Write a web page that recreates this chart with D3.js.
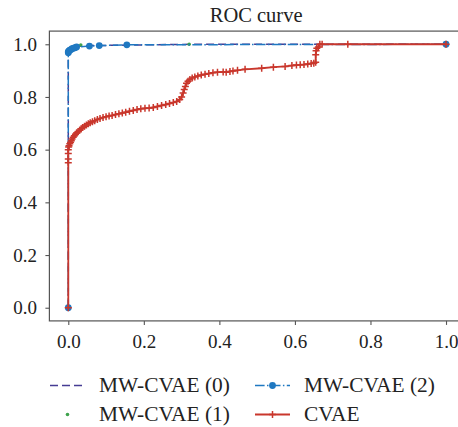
<!DOCTYPE html>
<html>
<head>
<meta charset="utf-8">
<script src="https://cdn.jsdelivr.net/npm/d3@7"></script>
<style>
  body { margin: 0; background: #fff; }
  svg text { font-family: "Liberation Serif", "DejaVu Serif", serif; fill: #222; }
</style>
</head>
<body>
<div id="chart"></div>
<script>
// MW-CVAE (0): dashed navy line
var mw0Fpr = [0, 0, 0, 0.004, 0.008, 0.014, 0.022, 0.06, 0.16, 0.33, 1.0];
var mw0Tpr = [0, 0.968, 0.975, 0.98, 0.985, 0.988, 0.992, 0.995, 0.997, 1.0, 1.0];

// MW-CVAE (1): green points only
var mw1Fpr = [0, 0, 0.002, 0.006, 0.012, 0.02, 0.033, 0.32, 1.0];
var mw1Tpr = [0, 0.97, 0.977, 0.983, 0.987, 0.99, 0.997, 1.0, 1.0];

// MW-CVAE (2): dash-dot blue with circles
var mw2Fpr = [0, 0, 0, 0.002, 0.004, 0.007, 0.01, 0.014, 0.018, 0.022, 0.056, 0.082, 0.155, 1.0];
var mw2Tpr = [0, 0.968, 0.972, 0.975, 0.978, 0.98, 0.983, 0.985, 0.987, 0.99, 0.993, 0.995, 0.998, 1.0];

// CVAE: red line with + markers
var cvaeFpr = [0, 0, 0, 0, 0, 0.001, 0.002, 0.004, 0.006, 0.008, 0.010, 0.013, 0.016, 0.019, 0.022,
  0.026, 0.030, 0.034, 0.038, 0.043, 0.048, 0.053, 0.058, 0.064, 0.070, 0.077, 0.084, 0.092, 0.100,
  0.108, 0.116, 0.125, 0.134, 0.143, 0.152, 0.162, 0.172, 0.182, 0.192, 0.203, 0.214, 0.225, 0.236,
  0.247, 0.258, 0.268, 0.278, 0.287, 0.295, 0.300, 0.304, 0.307, 0.310, 0.313, 0.317, 0.322, 0.328,
  0.335, 0.343, 0.352, 0.362, 0.372, 0.383, 0.395, 0.41, 0.418, 0.428, 0.436, 0.448, 0.468, 0.512,
  0.543, 0.574, 0.592, 0.604, 0.614, 0.624, 0.634, 0.643, 0.65, 0.655, 0.655, 0.656, 0.658, 0.662,
  0.666, 0.672, 0.74, 1.0];
var cvaeTpr = [0, 0.55, 0.565, 0.585, 0.60, 0.61, 0.615, 0.622, 0.628, 0.634, 0.64, 0.647, 0.653, 0.658, 0.663,
  0.668, 0.674, 0.679, 0.684, 0.689, 0.694, 0.698, 0.702, 0.706, 0.710, 0.714, 0.718, 0.722, 0.725,
  0.728, 0.730, 0.733, 0.736, 0.739, 0.742, 0.746, 0.749, 0.752, 0.755, 0.757, 0.758, 0.760, 0.764,
  0.768, 0.771, 0.775, 0.779, 0.783, 0.790, 0.800, 0.815, 0.828, 0.840, 0.852, 0.860, 0.866, 0.872,
  0.876, 0.880, 0.883, 0.886, 0.889, 0.892, 0.894, 0.895, 0.894, 0.897, 0.899, 0.901, 0.905, 0.909,
  0.913, 0.916, 0.919, 0.921, 0.922, 0.923, 0.925, 0.927, 0.928, 0.932, 0.96, 0.975, 0.985, 0.99,
  1.0, 1.0, 1.0, 1.0];

var tickValues = [0, 0.2, 0.4, 0.6, 0.8, 1.0];
var legendLabels = ["MW-CVAE (0)", "MW-CVAE (1)", "MW-CVAE (2)", "CVAE"];

var width = 458, height = 427;
var plot = {left: 49.4, right: 464.9, top: 31.1, bottom: 320.9};
var serif = '"Liberation Serif", "DejaVu Serif", serif';

var navy = "#463c94", blue = "#1f78c1", green = "#3fa34d", red = "#c9372c";

var svg = d3.select("#chart").append("svg")
    .attr("width", width)
    .attr("height", height);

// Scales
var x = d3.scaleLinear().domain([-0.05, 1.05]).range([plot.left, plot.right]);
var y = d3.scaleLinear().domain([-0.05, 1.05]).range([plot.bottom, plot.top]);

function pts(fx, fy) {
    return fx.map(function (d, i) { return [d, fy[i]]; });
}
var line = d3.line()
    .x(function (d) { return x(d[0]); })
    .y(function (d) { return y(d[1]); });

// frame
svg.append("rect")
    .attr("x", plot.left).attr("y", plot.top)
    .attr("width", plot.right - plot.left)
    .attr("height", plot.bottom - plot.top)
    .attr("fill", "none")
    .attr("stroke", "#555")
    .attr("stroke-width", 1.2);

// X-axis
var xAxis = svg.append("g")
    .attr("transform", "translate(0," + plot.bottom + ")")
    .call(d3.axisBottom(x).tickValues(tickValues).tickSize(4).tickPadding(5)
        .tickFormat(d3.format(".1f")));
// Y-axis
var yAxis = svg.append("g")
    .attr("transform", "translate(" + plot.left + ",0)")
    .call(d3.axisLeft(y).tickValues(tickValues).tickSize(4).tickPadding(8.5)
        .tickFormat(d3.format(".1f")));

[xAxis, yAxis].forEach(function (g) {
    g.attr("font-family", serif).attr("font-size", 19);
    g.select(".domain").remove();
    g.selectAll(".tick line").attr("stroke", "#555").attr("stroke-width", 1.1);
    g.selectAll(".tick text")
        .style("font-family", serif)
        .style("font-size", "19px")
        .attr("fill", "#222");
});
xAxis.selectAll(".tick text").attr("dy", "0.95em");
yAxis.selectAll(".tick text").attr("dy", "0.32em");

// title
svg.append("text")
    .attr("x", (plot.left + plot.right) / 2 - 1)
    .attr("y", 21.5)
    .attr("text-anchor", "middle")
    .style("font-size", "20.5px")
    .text("ROC curve");

var g = svg.append("g");

// MW-CVAE (0)
g.append("path")
    .datum(pts(mw0Fpr, mw0Tpr))
    .attr("d", line)
    .attr("fill", "none")
    .attr("stroke", navy)
    .attr("stroke-width", 1.5)
    .attr("stroke-dasharray", "8,4");

// MW-CVAE (1)
g.selectAll(".mw1")
    .data(pts(mw1Fpr, mw1Tpr))
    .enter().append("circle")
    .attr("class", "mw1")
    .attr("cx", function (d) { return x(d[0]); })
    .attr("cy", function (d) { return y(d[1]); })
    .attr("r", 1.8)
    .attr("fill", green);

// MW-CVAE (2)
g.append("path")
    .datum(pts(mw2Fpr, mw2Tpr))
    .attr("d", line)
    .attr("fill", "none")
    .attr("stroke", blue)
    .attr("stroke-width", 1.5)
    .attr("stroke-dasharray", "9.6,2.4,1.5,2.4");
g.selectAll(".mw2")
    .data(pts(mw2Fpr, mw2Tpr))
    .enter().append("circle")
    .attr("class", "mw2")
    .attr("cx", function (d) { return x(d[0]); })
    .attr("cy", function (d) { return y(d[1]); })
    .attr("r", 3.4)
    .attr("fill", blue);

// CVAE
g.append("path")
    .datum(pts(cvaeFpr, cvaeTpr))
    .attr("d", line)
    .attr("fill", "none")
    .attr("stroke", red)
    .attr("stroke-width", 1.8);
g.selectAll(".cvae")
    .data(pts(cvaeFpr, cvaeTpr))
    .enter().append("path")
    .attr("class", "cvae")
    .attr("transform", function (d) { return "translate(" + x(d[0]) + "," + y(d[1]) + ")"; })
    .attr("d", "M-3.5,0H3.5M0,-3.5V3.5")
    .attr("stroke", red)
    .attr("stroke-width", 1.5);

// Legend
var legendPos = [
    {x: 50, y: 385.5}, {x: 50, y: 414.5},
    {x: 255, y: 385.5}, {x: 255, y: 414.5}
];
var legend = svg.selectAll(".legend")
    .data(legendLabels)
    .enter().append("g")
    .attr("class", "legend")
    .attr("transform", function (d, i) { return "translate(" + legendPos[i].x + "," + legendPos[i].y + ")"; });

legend.append("text")
    .attr("x", 49)
    .attr("y", 0)
    .attr("dy", "0.32em")
    .style("font-family", serif)
    .style("font-size", "21.4px")
    .text(function (d) { return d; });

legend.each(function (d, i) {
    var el = d3.select(this);
    if (i === 0) {
        el.append("line").attr("x1", 0).attr("x2", 35).attr("y1", 0).attr("y2", 0)
            .attr("stroke", navy).attr("stroke-width", 1.5).attr("stroke-dasharray", "8,4");
    } else if (i === 1) {
        el.append("circle").attr("cx", 17.5).attr("cy", 0).attr("r", 1.8).attr("fill", green);
    } else if (i === 2) {
        el.append("line").attr("x1", 0).attr("x2", 35).attr("y1", 0).attr("y2", 0)
            .attr("stroke", blue).attr("stroke-width", 1.5).attr("stroke-dasharray", "9.6,2.4,1.5,2.4");
        el.append("circle").attr("cx", 17.5).attr("cy", 0).attr("r", 3.4).attr("fill", blue);
    } else {
        el.append("line").attr("x1", 0).attr("x2", 35).attr("y1", 0).attr("y2", 0)
            .attr("stroke", red).attr("stroke-width", 1.8);
        el.append("path").attr("transform", "translate(17.5,0)")
            .attr("d", "M-3.5,0H3.5M0,-3.5V3.5")
            .attr("stroke", red).attr("stroke-width", 1.5);
    }
});
</script>
</body>
</html>
